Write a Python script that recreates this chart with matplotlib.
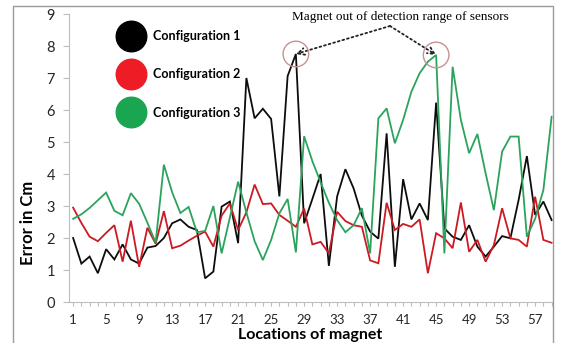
import matplotlib
matplotlib.use('Agg')
import matplotlib.pyplot as plt
from matplotlib.lines import Line2D
from matplotlib.patches import Rectangle

# error (cm) at each magnet location
locations = list(range(1, 60))
config1 = [2.0, 1.2, 1.42, 0.9, 1.65, 1.33, 1.8, 1.33, 1.2, 1.7,
           1.75, 2.0, 2.46, 2.58, 2.35, 2.25, 0.74, 0.95, 2.98, 3.14,
           1.84, 7.0, 5.74, 6.04, 5.72, 3.3, 7.06, 7.75, 2.46, 3.22,
           4.0, 1.13, 3.3, 4.15, 3.55, 2.7, 2.2, 1.98, 5.27, 1.1,
           3.84, 2.58, 3.08, 2.56, 6.23, 2.3, 2.04, 1.94, 2.4, 1.73,
           1.42, 1.73, 2.06, 1.99, 3.19, 4.56, 2.72, 3.14, 2.56]
config2 = [2.95, 2.47, 2.04, 1.9, 2.16, 2.4, 1.26, 2.54, 1.1, 2.32,
           1.82, 2.84, 1.68, 1.76, 1.92, 2.07, 2.2, 1.73, 2.7, 3.08,
           2.25, 2.8, 3.67, 3.06, 3.08, 2.72, 2.54, 2.35, 2.92, 1.8,
           1.88, 1.52, 2.82, 2.53, 2.4, 2.35, 1.3, 1.21, 3.1, 2.25,
           2.44, 2.35, 2.58, 0.9, 2.15, 1.99, 1.68, 3.11, 1.57, 1.94,
           1.26, 1.78, 2.93, 1.99, 1.94, 1.73, 3.29, 1.94, 1.85]
config3 = [2.6, 2.74, 2.94, 3.18, 3.42, 2.85, 2.71, 3.4, 3.07, 2.48,
           1.86, 4.29, 3.43, 2.78, 2.97, 2.18, 2.22, 3.0, 1.52, 2.64,
           3.76, 2.8, 1.9, 1.31, 1.94, 2.77, 3.22, 1.55, 5.18, 4.4,
           3.74, 3.1, 2.56, 2.18, 2.4, 2.93, 1.52, 5.74, 6.05, 4.96,
           5.69, 6.57, 7.15, 7.51, 7.72, 1.52, 7.35, 5.69, 4.65, 5.25,
           4.02, 2.87, 4.7, 5.17, 5.17, 2.04, 2.6, 3.5, 5.79]
labels = ['Configuration 1', 'Configuration 2', 'Configuration 3']
out_of_range = [(28, 0), (45, 2)]   # (location, series index)

W, H = 563, 343
fig = plt.figure(figsize=(W / 100, H / 100), dpi=100)
L, R, B, T = 69, 553, 302, 14
ax = fig.add_axes([L / W, 1 - B / H, (R - L) / W, (B - T) / H])

series = [config1, config2, config3]
line_cols = ['#0d0d0d', '#cc1a22', '#2ba35c']
dot_cols = ['#000000', '#ee1c25', '#1aa551']
for ys, c in zip(series, line_cols):
    ax.plot(locations, ys, color=c, lw=1.3, solid_joinstyle='miter')

ax.set_xlim(0.5, 0.5 + (R - L) / 8.25)
ax.set_ylim(0, 9)
ax.set_yticks(range(0, 10))
ax.set_xticks(locations)
ax.set_xticklabels([str(x) if (x - 1) % 4 == 0 else '' for x in locations])

for s in ['top', 'right']:
    ax.spines[s].set_visible(False)
for s in ['left', 'bottom']:
    ax.spines[s].set_color('#bdbdbd')
    ax.spines[s].set_linewidth(0.8)
ax.tick_params(axis='both', colors='#bdbdbd', width=0.8)
ax.tick_params(axis='x', length=3, pad=6, labelcolor='#262626', labelsize=9.5)
ax.tick_params(axis='y', length=4, pad=6, labelcolor='#262626', labelsize=10.5)
for t in ax.get_xticklabels() + ax.get_yticklabels():
    t.set_family('Lato')

fig.text(28 / W, 1 - 223 / H, 'Error in Cm', rotation=90, ha='center', va='center',
         fontsize=12, fontweight='bold', family='Lato')
fig.text(310 / W, 1 - 335 / H, 'Locations of magnet', ha='center', va='center',
         fontsize=11.5, fontweight='bold', family='Lato')

# legend with big dots
handles = [Line2D([], [], marker='o', ls='none', ms=22, color=c) for c in dot_cols]
ax.legend(handles, labels, loc='upper left', bbox_to_anchor=(112 / W, 1 - 24 / H),
          bbox_transform=fig.transFigure, frameon=False, handlelength=2.0,
          handletextpad=0.75, labelspacing=2.1, borderpad=0,
          prop={'family': 'Lato', 'weight': 'bold', 'size': 9})

# out-of-range annotation
fig.text(400 / W, 1 - 17 / H, 'Magnet out of detection range of sensors',
         ha='center', va='center', fontsize=9.5, family='Liberation Serif')
for loc, k in out_of_range:
    yv = series[k][loc - 1]
    ax.scatter([loc], [yv], s=340, facecolors='none', edgecolors='#c49393', lw=1.0, zorder=4)
    ax.annotate('', xy=(loc, yv), xytext=(390 / W, 1 - 26 / H), textcoords='figure fraction',
                arrowprops=dict(arrowstyle='->', linestyle=':', lw=1.3, color='#222222',
                                mutation_scale=12, shrinkA=0, shrinkB=0))

fig.add_artist(Rectangle((13 / W, -0.1), (553 - 13) / W, 1.1 - 6 / H,
                         transform=fig.transFigure, fill=False, ec='#9a9a9a', lw=1.0))

fig.savefig('out.png', dpi=100)
